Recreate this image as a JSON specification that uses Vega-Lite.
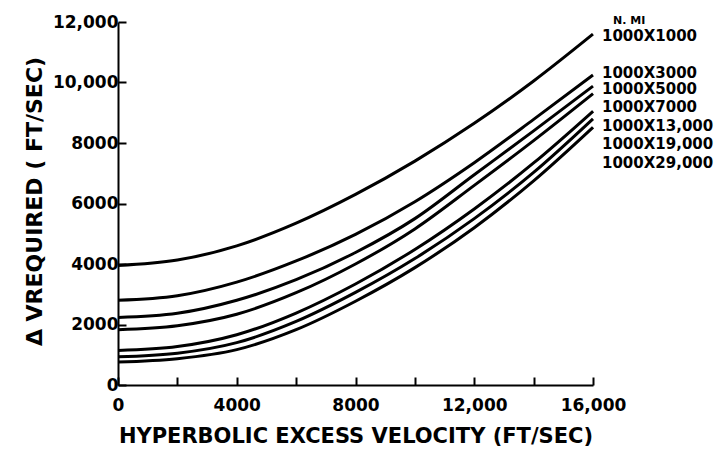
{
  "$schema": "https://vega.github.io/schema/vega-lite/v6.json",
  "width": 475,
  "height": 363,
  "autosize": {"type": "none"},
  "padding": {"left": 118, "top": 22, "right": 126, "bottom": 67},
  "background": "white",
  "config": {
    "view": {"stroke": null},
    "font": "DejaVu Sans",
    "axis": {
      "domainColor": "black", "domainWidth": 2, "tickColor": "black", "tickWidth": 2,
      "labelColor": "black", "titleColor": "black", "labelFont": "DejaVu Sans", "titleFont": "DejaVu Sans",
      "labelFontWeight": "bold", "titleFontWeight": "bold", "labelFontSize": 17, "titleFontSize": 21, "grid": false
    }
  },
  "datasets": {
    "curves": [
      {"s": "1000X1000", "v": 0, "dv": 3950}, {"s": "1000X1000", "v": 2000, "dv": 4130}, {"s": "1000X1000", "v": 4000, "dv": 4600}, {"s": "1000X1000", "v": 6000, "dv": 5350}, {"s": "1000X1000", "v": 8000, "dv": 6300}, {"s": "1000X1000", "v": 10000, "dv": 7400}, {"s": "1000X1000", "v": 12000, "dv": 8650}, {"s": "1000X1000", "v": 14000, "dv": 10050}, {"s": "1000X1000", "v": 16000, "dv": 11600},
      {"s": "1000X3000", "v": 0, "dv": 2800}, {"s": "1000X3000", "v": 2000, "dv": 2950}, {"s": "1000X3000", "v": 4000, "dv": 3400}, {"s": "1000X3000", "v": 6000, "dv": 4100}, {"s": "1000X3000", "v": 8000, "dv": 4980}, {"s": "1000X3000", "v": 10000, "dv": 6060}, {"s": "1000X3000", "v": 12000, "dv": 7350}, {"s": "1000X3000", "v": 14000, "dv": 8780}, {"s": "1000X3000", "v": 16000, "dv": 10250},
      {"s": "1000X5000", "v": 0, "dv": 2230}, {"s": "1000X5000", "v": 2000, "dv": 2370}, {"s": "1000X5000", "v": 4000, "dv": 2800}, {"s": "1000X5000", "v": 6000, "dv": 3480}, {"s": "1000X5000", "v": 8000, "dv": 4380}, {"s": "1000X5000", "v": 10000, "dv": 5500}, {"s": "1000X5000", "v": 12000, "dv": 6950}, {"s": "1000X5000", "v": 14000, "dv": 8400}, {"s": "1000X5000", "v": 16000, "dv": 9880},
      {"s": "1000X7000", "v": 0, "dv": 1830}, {"s": "1000X7000", "v": 2000, "dv": 1960}, {"s": "1000X7000", "v": 4000, "dv": 2340}, {"s": "1000X7000", "v": 6000, "dv": 3050}, {"s": "1000X7000", "v": 8000, "dv": 4000}, {"s": "1000X7000", "v": 10000, "dv": 5160}, {"s": "1000X7000", "v": 12000, "dv": 6600}, {"s": "1000X7000", "v": 14000, "dv": 8080}, {"s": "1000X7000", "v": 16000, "dv": 9630},
      {"s": "1000X13,000", "v": 0, "dv": 1140}, {"s": "1000X13,000", "v": 2000, "dv": 1270}, {"s": "1000X13,000", "v": 4000, "dv": 1660}, {"s": "1000X13,000", "v": 6000, "dv": 2380}, {"s": "1000X13,000", "v": 8000, "dv": 3340}, {"s": "1000X13,000", "v": 10000, "dv": 4480}, {"s": "1000X13,000", "v": 12000, "dv": 5820}, {"s": "1000X13,000", "v": 14000, "dv": 7340}, {"s": "1000X13,000", "v": 16000, "dv": 9050},
      {"s": "1000X19,000", "v": 0, "dv": 930}, {"s": "1000X19,000", "v": 2000, "dv": 1050}, {"s": "1000X19,000", "v": 4000, "dv": 1400}, {"s": "1000X19,000", "v": 6000, "dv": 2100}, {"s": "1000X19,000", "v": 8000, "dv": 3060}, {"s": "1000X19,000", "v": 10000, "dv": 4180}, {"s": "1000X19,000", "v": 12000, "dv": 5500}, {"s": "1000X19,000", "v": 14000, "dv": 7030}, {"s": "1000X19,000", "v": 16000, "dv": 8800},
      {"s": "1000X29,000", "v": 0, "dv": 760}, {"s": "1000X29,000", "v": 2000, "dv": 870}, {"s": "1000X29,000", "v": 4000, "dv": 1170}, {"s": "1000X29,000", "v": 6000, "dv": 1830}, {"s": "1000X29,000", "v": 8000, "dv": 2770}, {"s": "1000X29,000", "v": 10000, "dv": 3880}, {"s": "1000X29,000", "v": 12000, "dv": 5200}, {"s": "1000X29,000", "v": 14000, "dv": 6750}, {"s": "1000X29,000", "v": 16000, "dv": 8520}
    ],
    "labels": [
      {"t": "1000X1000", "v": 16000, "dv": 11537},
      {"t": "1000X3000", "v": 16000, "dv": 10314},
      {"t": "1000X5000", "v": 16000, "dv": 9785},
      {"t": "1000X7000", "v": 16000, "dv": 9190},
      {"t": "1000X13,000", "v": 16000, "dv": 8562},
      {"t": "1000X19,000", "v": 16000, "dv": 7967},
      {"t": "1000X29,000", "v": 16000, "dv": 7339}
    ],
    "unit": [{"t": "N. MI", "v": 16000, "dv": 12020}]
  },
  "layer": [
    {
      "data": {"name": "curves"},
      "mark": {"type": "line", "interpolate": "monotone", "strokeWidth": 3, "color": "black", "clip": false},
      "encoding": {
        "x": {
          "field": "v", "type": "quantitative",
          "scale": {"domain": [0, 16000], "nice": false},
          "axis": {
            "title": "HYPERBOLIC EXCESS VELOCITY (FT/SEC)",
            "values": [0, 2000, 4000, 6000, 8000, 10000, 12000, 14000, 16000],
            "tickSize": -8,
            "labelPadding": 20,
            "labelExpr": "datum.value % 4000 === 0 ? (datum.value >= 10000 ? format(datum.value, ',') : format(datum.value, 'd')) : ''",
            "labelFlush": false, "labelOverlap": false,
            "titlePadding": 12
          }
        },
        "y": {
          "field": "dv", "type": "quantitative",
          "scale": {"domain": [0, 12000], "nice": false},
          "axis": {
            "title": "Δ VREQUIRED  ( FT/SEC)",
            "values": [0, 2000, 4000, 6000, 8000, 10000, 12000],
            "tickSize": -8,
            "labelPadding": 8,
            "labelExpr": "datum.value >= 10000 ? format(datum.value, ',') : format(datum.value, 'd')",
            "labelFlush": false, "labelOverlap": false,
            "titleX": -84, "titleY": 179, "titleAngle": -90, "titleAlign": "center", "titleBaseline": "middle",
            "titleFontSize": 22
          }
        },
        "detail": {"field": "s", "type": "nominal"}
      }
    },
    {
      "data": {"name": "labels"},
      "mark": {"type": "text", "align": "left", "baseline": "middle", "dx": 9, "fontSize": 15, "fontWeight": "bold", "color": "black", "clip": false},
      "encoding": {
        "x": {"field": "v", "type": "quantitative"},
        "y": {"field": "dv", "type": "quantitative"},
        "text": {"field": "t"}
      }
    },
    {
      "data": {"name": "unit"},
      "mark": {"type": "text", "align": "left", "baseline": "middle", "dx": 20, "fontSize": 11, "fontWeight": "bold", "color": "black", "clip": false},
      "encoding": {
        "x": {"field": "v", "type": "quantitative"},
        "y": {"field": "dv", "type": "quantitative"},
        "text": {"field": "t"}
      }
    }
  ]
}
